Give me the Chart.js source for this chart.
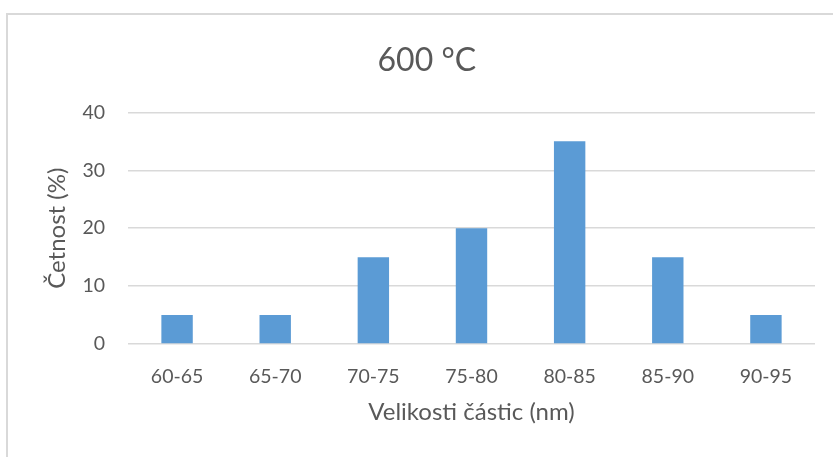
<!DOCTYPE html>
<html>
<head>
<meta charset="utf-8">
<script src="https://cdn.jsdelivr.net/npm/chart.js@4/dist/chart.umd.min.js"></script>
<style>
  html, body { margin: 0; padding: 0; background: #fff; overflow: hidden; }
  #wrap { position: relative; width: 833px; height: 457px; }
  #frame { position: absolute; left: 6px; top: 13px; width: 900px; height: 500px; border: 2px solid #d9d9d9; box-sizing: border-box; }
  canvas { position: absolute; left: 0; top: 0; }
</style>
</head>
<body>
<div id="wrap">
  <div id="frame"></div>
  <canvas id="c" width="833" height="457"></canvas>
</div>
<script>
// Particle size distribution after annealing at 600 °C
const categories = ['60-65', '65-70', '70-75', '75-80', '80-85', '85-90', '90-95'];
const frequency = [5, 5, 15, 20, 35, 15, 5];
const yTicks = [0, 10, 20, 30, 40];

const FONT = 'Lato, "Open Sans", sans-serif';
const TEXT = '#595959';

new Chart(document.getElementById('c'), {
  type: 'bar',
  data: {
    labels: categories,
    datasets: [{
      data: frequency,
      backgroundColor: '#5B9BD5',
      borderWidth: 0,
      categoryPercentage: 1,
      barPercentage: 0.32
    }]
  },
  options: {
    responsive: false,
    animation: false,
    layout: { padding: { top: 30, left: 38.6, right: 18, bottom: 30.6 } },
    plugins: {
      legend: { display: false },
      tooltip: { enabled: false },
      title: {
        display: true,
        text: '600 °C',
        color: TEXT,
        font: { family: FONT, size: 32, weight: 'normal' },
        padding: { top: 11, bottom: 33 }
      }
    },
    scales: {
      x: {
        afterFit: (axis) => { axis.height = 82.4; },
        grid: { display: false },
        border: { display: false },
        ticks: { color: TEXT, font: { family: FONT, size: 19.5 }, padding: 13, maxRotation: 0 },
        title: {
          display: true,
          text: 'Velikosti částic (nm)',
          color: TEXT,
          font: { family: FONT, size: 24 },
          padding: { top: 4, bottom: 0 }
        }
      },
      y: {
        min: 0,
        max: 40,
        afterBuildTicks: (axis) => { axis.ticks = yTicks.map(v => ({ value: v })); },
        afterFit: (axis) => { axis.width = 89.4; },
        grid: { color: '#d9d9d9', lineWidth: 1.5, drawTicks: false },
        border: { display: false },
        ticks: { color: TEXT, font: { family: FONT, size: 19.5 }, padding: 23 },
        title: {
          display: true,
          text: 'Četnost (%)',
          color: TEXT,
          font: { family: FONT, size: 24 },
          padding: { top: 4, bottom: 4 }
        }
      }
    }
  }
});
</script>
</body>
</html>
